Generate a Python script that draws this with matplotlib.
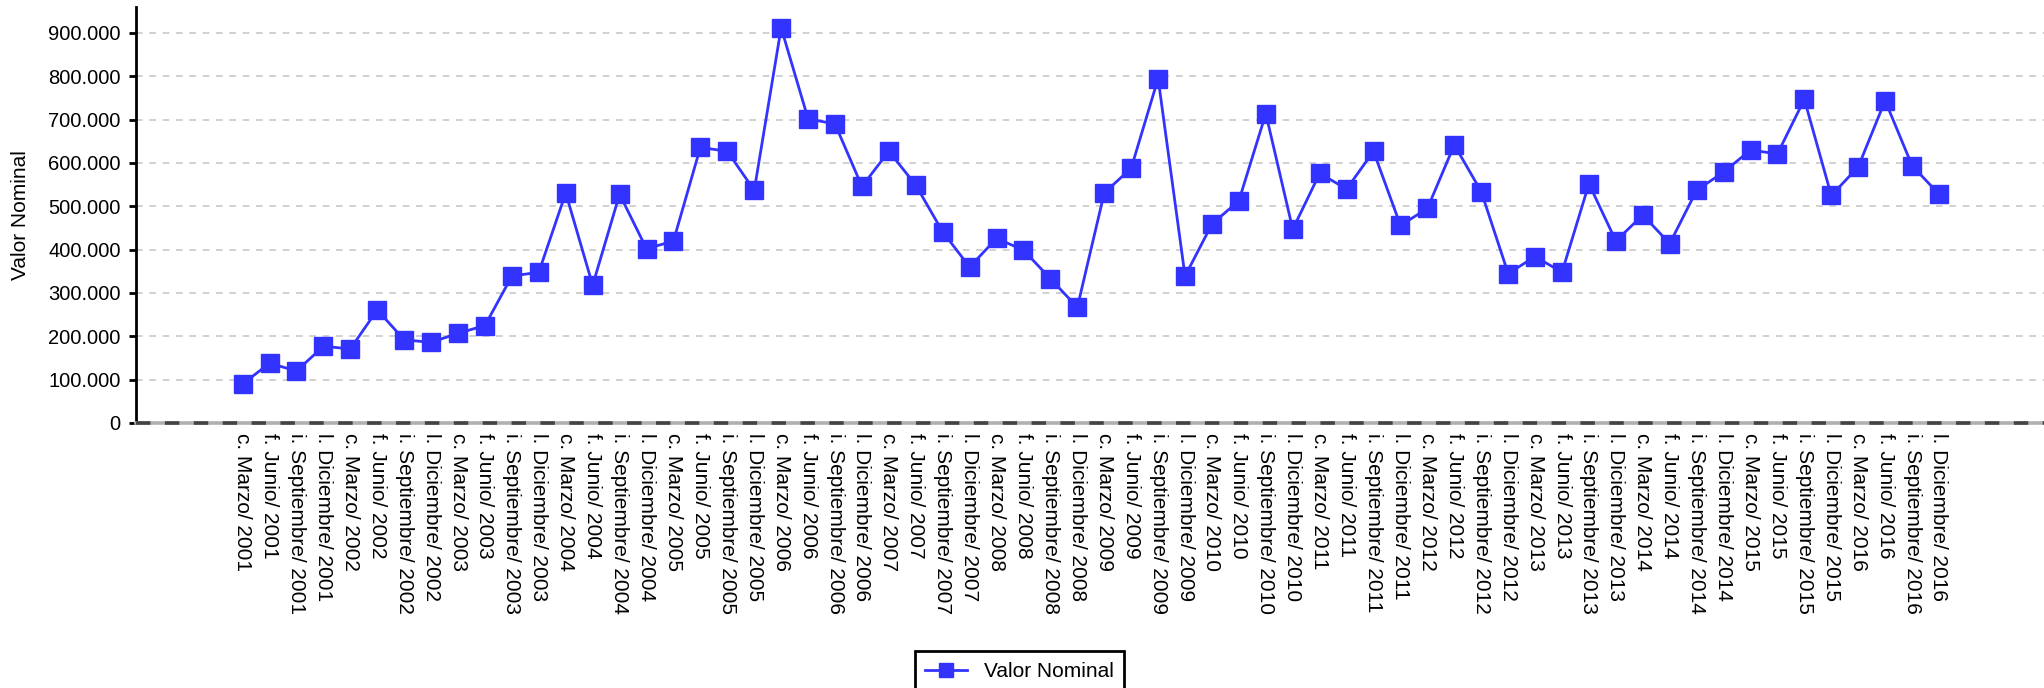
import numpy as np
import matplotlib
matplotlib.use('Agg')
import matplotlib.pyplot as plt
from matplotlib.ticker import FuncFormatter, MultipleLocator

plt.rcParams['font.family'] = ['Liberation Sans', 'DejaVu Sans']

# trimestres 2001-2016
prefijos = ['c. Marzo', 'f. Junio', 'i. Septiembre', 'l. Diciembre']
anios = list(range(2001, 2017))
etiquetas = ['{}/ {}'.format(p, a) for a in anios for p in prefijos]

valor_nominal = [
    90000, 138000, 120000, 177000,
    171000, 261000, 192000, 186000,
    207000, 225000, 339000, 348000,
    531000, 318000, 528000, 402000,
    420000, 636000, 627000, 537000,
    912000, 702000, 690000, 546000,
    627000, 549000, 441000, 360000,
    426000, 399000, 333000, 267000,
    531000, 588000, 795000, 339000,
    459000, 513000, 714000, 447000,
    576000, 540000, 627000, 456000,
    495000, 642000, 534000, 345000,
    384000, 348000, 552000, 420000,
    480000, 414000, 537000, 579000,
    630000, 621000, 747000, 525000,
    591000, 744000, 594000, 528000,
]

W, H = 2044, 688


def formato_miles(v, pos):
    # 900000 -> "900.000"
    if v == 0:
        return '0'
    return '{:,}'.format(int(round(v))).replace(',', '.')


def main():
    fig = plt.figure(figsize=(W / 100, H / 100), dpi=100)
    ax = fig.add_axes([136 / W, 1 - 423 / H, (W - 136) / W, (423 - 7) / H])

    x = np.arange(len(valor_nominal))
    ax.plot(x, valor_nominal, color='#3333ff', linewidth=2.0, marker='s',
            markersize=13.5, markeredgecolor='#3333ff', label='Valor Nominal',
            zorder=4)

    ax.set_xlim(-3.96, 66.9)
    ax.set_ylim(0, 960000)
    ax.yaxis.set_major_locator(MultipleLocator(100000))
    ax.yaxis.set_major_formatter(FuncFormatter(formato_miles))
    ax.set_xticks(x)
    ax.set_xticklabels(etiquetas, rotation=-90, fontsize=15, va='top', ha='center')
    ax.tick_params(axis='x', length=0, pad=7)
    ax.tick_params(axis='y', labelsize=14.5, length=5, width=2, color='black', pad=6)

    ax.grid(axis='y', linestyle=(0, (4, 4)), color='#c8c8c8', linewidth=1.2)
    # linea del cero: gris claro con trazos oscuros
    ax.axhline(0, color='#b0b0b0', linewidth=2.6, zorder=3, clip_on=False)
    ax.axhline(0, color='#444444', linestyle=(0, (4, 4)), linewidth=2.6, zorder=3,
               clip_on=False)
    for s in ['top', 'right', 'bottom']:
        ax.spines[s].set_visible(False)
    ax.spines['left'].set_linewidth(2)
    ax.set_ylabel('Valor Nominal', fontsize=15)
    ax.yaxis.set_label_coords(-(136 - 30) / (W - 136), 0.5)

    leg = fig.legend(loc='upper center', bbox_to_anchor=(1019.5 / W, 1 - 641 / H),
                     fontsize=15, frameon=True, fancybox=False, edgecolor='black',
                     framealpha=1, handlelength=2.0, markerscale=0.75,
                     borderpad=0.5)
    leg.get_frame().set_linewidth(2)

    fig.savefig('out.png', dpi=100)


if __name__ == "__main__":
    main()
